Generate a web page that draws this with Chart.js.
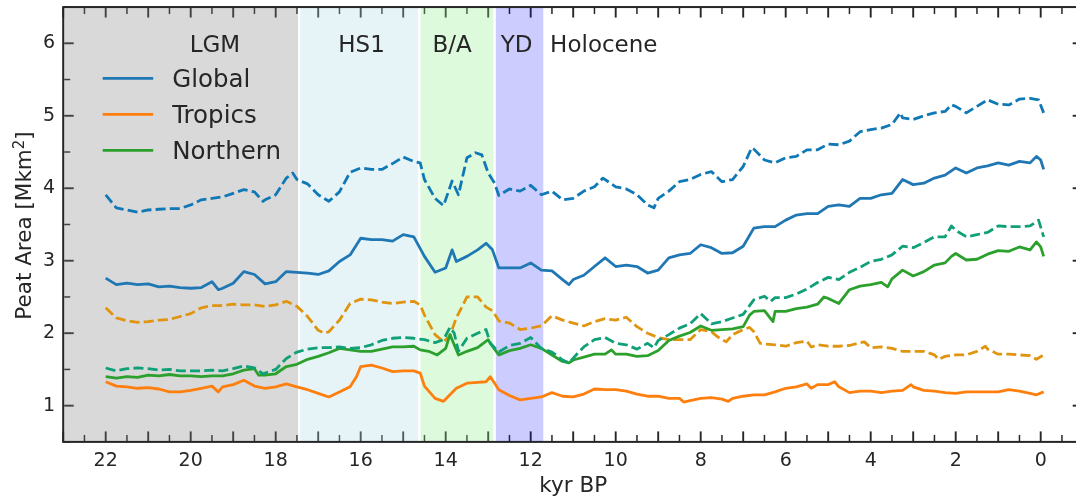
<!DOCTYPE html>
<html>
<head>
<meta charset="utf-8">
<title>Peat area since the LGM</title>
<script src="https://cdn.jsdelivr.net/npm/chart.js@4.4.1/dist/chart.umd.min.js"></script>
<style>
  html, body { margin: 0; padding: 0; background: #ffffff; overflow: hidden; }
  #wrap { position: relative; width: 1088px; height: 499px; }
</style>
</head>
<body>
<div id="wrap"><canvas id="peat" width="1088" height="499"></canvas></div>
<script>
// ---- Data: [kyr BP, peat area in Mkm^2] ----
const globalArea = [[22.0,2.76],[21.75,2.67],[21.5,2.69],[21.25,2.67],[21.0,2.68],[20.75,2.64],[20.5,2.65],[20.25,2.63],[20.0,2.62],[19.75,2.63],[19.5,2.71],[19.35,2.60],[19.25,2.62],[19.0,2.69],[18.75,2.85],[18.5,2.81],[18.25,2.68],[18.0,2.71],[17.75,2.85],[17.5,2.84],[17.25,2.83],[17.0,2.81],[16.75,2.86],[16.5,2.99],[16.25,3.08],[16.0,3.31],[15.75,3.29],[15.5,3.29],[15.25,3.27],[15.0,3.36],[14.75,3.33],[14.5,3.06],[14.25,2.84],[14.0,2.90],[13.85,3.15],[13.75,2.99],[13.5,3.06],[13.25,3.15],[13.05,3.24],[12.9,3.15],[12.75,2.90],[12.5,2.90],[12.25,2.90],[12.0,2.97],[11.75,2.87],[11.5,2.86],[11.25,2.74],[11.1,2.67],[11.0,2.74],[10.75,2.80],[10.5,2.92],[10.25,3.04],[10.0,2.92],[9.75,2.94],[9.5,2.92],[9.25,2.83],[9.0,2.87],[8.75,3.04],[8.5,3.08],[8.25,3.10],[8.0,3.22],[7.75,3.18],[7.5,3.10],[7.25,3.11],[7.0,3.20],[6.75,3.45],[6.5,3.47],[6.25,3.47],[6.0,3.56],[5.75,3.63],[5.5,3.65],[5.25,3.65],[5.0,3.75],[4.75,3.77],[4.5,3.75],[4.25,3.86],[4.0,3.86],[3.75,3.91],[3.5,3.93],[3.25,4.12],[3.0,4.05],[2.75,4.07],[2.5,4.14],[2.25,4.18],[2.0,4.28],[1.75,4.21],[1.5,4.28],[1.25,4.31],[1.0,4.35],[0.75,4.32],[0.5,4.37],[0.25,4.35],[0.1,4.44],[0.0,4.39],[-0.07,4.26]];

const globalAreaAlt = [[22.0,3.91],[21.75,3.73],[21.5,3.70],[21.25,3.67],[21.0,3.70],[20.75,3.71],[20.5,3.72],[20.25,3.72],[20.0,3.77],[19.75,3.84],[19.5,3.86],[19.25,3.88],[19.0,3.93],[18.75,3.98],[18.5,3.95],[18.3,3.82],[18.25,3.84],[18.0,3.91],[17.75,4.14],[17.6,4.21],[17.5,4.12],[17.25,4.06],[17.0,3.91],[16.75,3.82],[16.5,3.95],[16.25,4.22],[16.0,4.28],[15.75,4.26],[15.5,4.26],[15.25,4.34],[15.0,4.43],[14.75,4.37],[14.6,4.35],[14.5,4.12],[14.25,3.86],[14.05,3.76],[13.85,4.10],[13.7,3.91],[13.5,4.42],[13.3,4.49],[13.15,4.46],[13.0,4.21],[12.85,4.07],[12.75,3.90],[12.5,3.99],[12.25,3.96],[12.0,4.04],[11.75,3.91],[11.5,3.96],[11.25,3.84],[11.0,3.86],[10.75,3.96],[10.5,4.02],[10.3,4.14],[10.0,4.02],[9.75,3.99],[9.5,3.91],[9.25,3.77],[9.1,3.73],[9.0,3.86],[8.75,3.96],[8.5,4.09],[8.25,4.12],[8.0,4.19],[7.75,4.23],[7.5,4.09],[7.25,4.12],[7.0,4.30],[6.8,4.56],[6.75,4.54],[6.5,4.39],[6.25,4.35],[6.0,4.42],[5.75,4.44],[5.5,4.53],[5.25,4.53],[5.0,4.61],[4.75,4.60],[4.5,4.65],[4.25,4.78],[4.0,4.81],[3.75,4.83],[3.5,4.88],[3.3,5.04],[3.25,4.97],[3.0,4.95],[2.75,5.00],[2.5,5.04],[2.25,5.06],[2.1,5.15],[2.0,5.13],[1.75,5.04],[1.5,5.13],[1.25,5.22],[1.0,5.16],[0.75,5.15],[0.5,5.23],[0.25,5.24],[0.05,5.22],[-0.07,5.04]];

const tropicsArea = [[22.0,1.33],[21.75,1.27],[21.5,1.26],[21.25,1.24],[21.0,1.25],[20.75,1.23],[20.5,1.19],[20.25,1.19],[20.0,1.21],[19.75,1.24],[19.5,1.27],[19.35,1.19],[19.25,1.26],[19.0,1.29],[18.75,1.35],[18.5,1.27],[18.25,1.24],[18.0,1.26],[17.75,1.30],[17.5,1.26],[17.25,1.22],[17.0,1.17],[16.75,1.12],[16.5,1.19],[16.25,1.26],[16.1,1.40],[16.0,1.54],[15.75,1.56],[15.5,1.52],[15.25,1.47],[15.0,1.48],[14.75,1.48],[14.6,1.45],[14.5,1.27],[14.25,1.10],[14.05,1.06],[13.75,1.24],[13.5,1.31],[13.25,1.32],[13.05,1.33],[12.95,1.40],[12.75,1.22],[12.5,1.14],[12.25,1.08],[12.0,1.10],[11.75,1.12],[11.5,1.18],[11.25,1.13],[11.0,1.12],[10.75,1.16],[10.5,1.23],[10.25,1.22],[10.0,1.22],[9.75,1.20],[9.5,1.16],[9.25,1.13],[9.0,1.13],[8.75,1.10],[8.5,1.10],[8.4,1.05],[8.25,1.07],[8.0,1.10],[7.75,1.11],[7.5,1.09],[7.35,1.06],[7.25,1.10],[7.0,1.13],[6.75,1.15],[6.5,1.15],[6.25,1.19],[6.0,1.24],[5.75,1.26],[5.5,1.30],[5.4,1.24],[5.25,1.29],[5.0,1.29],[4.85,1.33],[4.75,1.26],[4.5,1.18],[4.25,1.20],[4.0,1.20],[3.75,1.18],[3.5,1.20],[3.25,1.21],[3.05,1.29],[3.0,1.26],[2.75,1.21],[2.5,1.20],[2.25,1.18],[2.0,1.17],[1.75,1.19],[1.5,1.19],[1.25,1.19],[1.0,1.19],[0.75,1.22],[0.5,1.20],[0.25,1.17],[0.1,1.15],[-0.07,1.19]];

const tropicsAreaAlt = [[22.0,2.35],[21.75,2.21],[21.5,2.17],[21.25,2.15],[21.0,2.16],[20.75,2.18],[20.5,2.19],[20.25,2.23],[20.0,2.27],[19.75,2.35],[19.5,2.38],[19.25,2.38],[19.0,2.40],[18.75,2.39],[18.5,2.39],[18.25,2.37],[18.0,2.39],[17.75,2.44],[17.5,2.37],[17.25,2.23],[17.0,2.04],[16.85,2.00],[16.75,2.02],[16.5,2.18],[16.25,2.41],[16.0,2.47],[15.75,2.46],[15.5,2.43],[15.25,2.41],[15.0,2.43],[14.75,2.44],[14.6,2.39],[14.5,2.25],[14.25,1.98],[14.05,1.88],[13.9,1.97],[13.75,2.21],[13.5,2.50],[13.25,2.50],[13.05,2.36],[12.9,2.31],[12.75,2.17],[12.5,2.14],[12.25,2.05],[12.0,2.07],[11.75,2.10],[11.5,2.24],[11.25,2.18],[11.0,2.14],[10.75,2.10],[10.5,2.16],[10.25,2.20],[10.0,2.18],[9.75,2.22],[9.5,2.09],[9.25,2.00],[9.0,1.94],[8.75,1.91],[8.5,1.91],[8.25,1.91],[8.0,2.05],[7.75,2.02],[7.6,1.95],[7.4,1.88],[7.25,1.98],[7.0,2.05],[6.85,2.08],[6.75,2.02],[6.6,1.86],[6.5,1.85],[6.25,1.84],[6.0,1.82],[5.75,1.87],[5.5,1.89],[5.4,1.81],[5.25,1.84],[5.0,1.82],[4.75,1.82],[4.5,1.83],[4.25,1.87],[4.15,1.88],[4.0,1.80],[3.75,1.81],[3.5,1.79],[3.25,1.75],[3.0,1.75],[2.75,1.75],[2.5,1.70],[2.4,1.64],[2.25,1.68],[2.0,1.70],[1.75,1.70],[1.5,1.75],[1.3,1.82],[1.25,1.78],[1.0,1.71],[0.75,1.71],[0.5,1.70],[0.25,1.69],[0.1,1.64],[-0.07,1.70]];

const northernArea = [[22.0,1.40],[21.75,1.38],[21.5,1.40],[21.25,1.39],[21.0,1.42],[20.75,1.41],[20.5,1.43],[20.25,1.41],[20.0,1.41],[19.75,1.40],[19.5,1.41],[19.25,1.41],[19.0,1.44],[18.75,1.49],[18.5,1.51],[18.4,1.42],[18.25,1.42],[18.0,1.44],[17.75,1.54],[17.5,1.57],[17.25,1.64],[17.0,1.68],[16.75,1.73],[16.5,1.79],[16.25,1.77],[16.0,1.75],[15.75,1.75],[15.5,1.78],[15.25,1.81],[15.0,1.81],[14.75,1.82],[14.6,1.77],[14.4,1.75],[14.2,1.70],[14.0,1.79],[13.9,1.98],[13.8,1.84],[13.7,1.70],[13.5,1.75],[13.25,1.80],[13.0,1.91],[12.95,1.86],[12.75,1.70],[12.5,1.76],[12.25,1.79],[12.0,1.84],[11.75,1.79],[11.5,1.70],[11.25,1.61],[11.1,1.59],[11.0,1.63],[10.75,1.67],[10.5,1.71],[10.25,1.71],[10.1,1.77],[10.0,1.71],[9.75,1.71],[9.5,1.68],[9.25,1.69],[9.0,1.76],[8.75,1.90],[8.5,1.96],[8.25,2.01],[8.0,2.10],[7.75,2.04],[7.5,2.05],[7.25,2.06],[7.0,2.09],[6.85,2.25],[6.75,2.30],[6.5,2.31],[6.3,2.16],[6.25,2.30],[6.0,2.30],[5.75,2.34],[5.5,2.36],[5.25,2.40],[5.1,2.50],[5.0,2.48],[4.75,2.41],[4.5,2.60],[4.25,2.65],[4.0,2.67],[3.75,2.70],[3.6,2.64],[3.5,2.75],[3.25,2.87],[3.0,2.79],[2.75,2.85],[2.5,2.94],[2.25,2.97],[2.1,3.06],[2.0,3.10],[1.75,3.01],[1.5,3.02],[1.25,3.09],[1.0,3.14],[0.75,3.13],[0.5,3.19],[0.25,3.15],[0.1,3.26],[0.0,3.19],[-0.07,3.06]];

const northernAreaAlt = [[22.0,1.52],[21.75,1.48],[21.5,1.51],[21.25,1.52],[21.0,1.51],[20.75,1.49],[20.5,1.50],[20.25,1.48],[20.0,1.48],[19.75,1.48],[19.5,1.49],[19.25,1.48],[19.0,1.51],[18.75,1.55],[18.5,1.52],[18.3,1.44],[18.25,1.45],[18.0,1.50],[17.75,1.65],[17.5,1.74],[17.25,1.78],[17.0,1.80],[16.75,1.80],[16.5,1.81],[16.25,1.79],[16.0,1.80],[15.75,1.84],[15.5,1.90],[15.25,1.93],[15.0,1.94],[14.75,1.93],[14.5,1.91],[14.25,1.87],[14.05,1.91],[13.9,2.08],[13.8,2.00],[13.7,1.75],[13.5,1.93],[13.25,2.00],[13.05,2.05],[12.95,1.86],[12.75,1.74],[12.5,1.83],[12.25,1.86],[12.0,1.94],[11.75,1.79],[11.5,1.74],[11.25,1.63],[11.1,1.59],[10.9,1.72],[10.75,1.81],[10.5,1.91],[10.25,1.94],[10.0,1.86],[9.75,1.84],[9.5,1.78],[9.25,1.86],[9.1,1.80],[9.0,1.90],[8.75,1.98],[8.5,2.07],[8.25,2.13],[8.0,2.27],[7.85,2.19],[7.75,2.13],[7.5,2.16],[7.25,2.21],[7.0,2.26],[6.75,2.46],[6.5,2.51],[6.35,2.44],[6.25,2.49],[6.0,2.49],[5.75,2.54],[5.5,2.61],[5.25,2.70],[5.0,2.77],[4.75,2.74],[4.5,2.84],[4.25,2.91],[4.0,2.99],[3.75,3.02],[3.5,3.08],[3.25,3.20],[3.0,3.18],[2.75,3.25],[2.5,3.33],[2.25,3.33],[2.1,3.48],[2.0,3.42],[1.75,3.33],[1.5,3.36],[1.25,3.39],[1.0,3.48],[0.75,3.47],[0.5,3.47],[0.25,3.48],[0.05,3.56],[-0.07,3.33]];

// Climate periods (kyr BP)
const periodNames = ['LGM', 'HS1', 'B/A', 'YD'];
const periodStart = [23.0, 17.45, 14.62, 12.85];
const periodEnd = [17.45, 14.62, 12.85, 11.68];

// Period captions along the top of the panel
const captionText = ['LGM', 'HS1', 'B/A', 'YD', 'Holocene'];
const captionKyr = [19.43, 15.98, 13.85, 12.33, 10.28];
const captionLevel = 6;

// Axis ticks
const xTickLabels = [22, 20, 18, 16, 14, 12, 10, 8, 6, 4, 2, 0];
const yTickLabels = [1, 2, 3, 4, 5, 6];

const legendNames = ['Global', 'Tropics', 'Northern'];

// ---- Styling ----
const INK = '#262626';
const FONT = '"DejaVu Sans", "Liberation Sans", sans-serif';
const solidColors = ['#1f77b4', '#ff7f0e', '#2ca02c'];
const dashedColors = ['#0f78b5', '#e0940f', '#0fa078'];
const periodFill = ['rgba(128,128,128,0.3)', 'rgba(173,216,230,0.3)', 'rgba(144,238,144,0.3)', 'rgba(0,0,255,0.2)'];
const LINE_W = 2.8;

const toXY = rows => rows.map(([x, y]) => ({ x, y }));

const seriesList = [
  { label: 'Global', rows: globalArea, color: solidColors[0], dash: [] },
  { label: 'Global (alt.)', rows: globalAreaAlt, color: dashedColors[0], dash: [10, 4.2] },
  { label: 'Tropics', rows: tropicsArea, color: solidColors[1], dash: [] },
  { label: 'Tropics (alt.)', rows: tropicsAreaAlt, color: dashedColors[1], dash: [10, 4.2] },
  { label: 'Northern', rows: northernArea, color: solidColors[2], dash: [] },
  { label: 'Northern (alt.)', rows: northernAreaAlt, color: dashedColors[2], dash: [10, 4.2] }
];

const datasets = seriesList.map((s, i) => ({
  label: s.label,
  data: toXY(s.rows),
  borderColor: s.color,
  backgroundColor: s.color,
  borderWidth: LINE_W,
  borderDash: s.dash,
  borderJoinStyle: 'round',
  pointRadius: 0,
  tension: 0,
  fill: false,
  order: seriesList.length - i   // later series are painted on top
}));

function strokeLine(ctx, x1, y1, x2, y2) {
  ctx.beginPath();
  ctx.moveTo(x1, y1);
  ctx.lineTo(x2, y2);
  ctx.stroke();
}

// Inward ticks, period shading, captions, legend and frame
const decorations = {
  id: 'decorations',
  beforeDatasetsDraw(chart) {
    const { ctx, chartArea: a, scales: { x, y } } = chart;
    ctx.save();
    ctx.strokeStyle = INK;
    // x ticks: long every 1 kyr, short every 0.5 kyr
    for (let k = -1; k <= 23.001; k += 0.5) {
      const major = Math.abs(k - Math.round(k)) < 1e-6;
      const px = x.getPixelForValue(k);
      ctx.lineWidth = major ? 1.9 : 1.5;
      const len = major ? 10.5 : 7;
      strokeLine(ctx, px, a.bottom, px, a.bottom - len);
      strokeLine(ctx, px, a.top, px, a.top + len);
    }
    // y ticks: long every 1, short every 0.5
    for (let v = 0.5; v <= 6.501; v += 0.5) {
      const major = Math.abs(v - Math.round(v)) < 1e-6;
      const py = y.getPixelForValue(v);
      ctx.lineWidth = major ? 1.9 : 1.5;
      const len = major ? 10.5 : 7;
      strokeLine(ctx, a.left, py, a.left + len, py);
      strokeLine(ctx, a.right, py, a.right - len, py);
    }
    // period shading
    ctx.beginPath();
    ctx.rect(a.left, a.top, a.right - a.left, a.bottom - a.top);
    ctx.clip();
    periodNames.forEach((name, i) => {
      const x1 = x.getPixelForValue(periodStart[i]);
      const x2 = x.getPixelForValue(periodEnd[i]);
      ctx.fillStyle = periodFill[i];
      ctx.fillRect(Math.min(x1, x2), a.top, Math.abs(x2 - x1), a.bottom - a.top);
    });
    ctx.strokeStyle = '#ffffff';
    ctx.lineWidth = 2;
    periodNames.forEach((name, i) => {
      [periodStart[i], periodEnd[i]].forEach(k => {
        const px = x.getPixelForValue(k);
        strokeLine(ctx, px, a.top, px, a.bottom);
      });
    });
    ctx.restore();
  },
  afterDatasetsDraw(chart) {
    const { ctx, chartArea: a, scales: { x, y } } = chart;
    ctx.save();
    ctx.fillStyle = INK;
    ctx.textBaseline = 'alphabetic';

    // period captions
    ctx.font = '23px ' + FONT;
    ctx.textAlign = 'center';
    const capY = y.getPixelForValue(captionLevel) + 0.3645 * 23;
    captionText.forEach((t, i) => {
      ctx.fillText(t, x.getPixelForValue(captionKyr[i]), capY);
    });

    // legend
    ctx.textAlign = 'left';
    ctx.font = '24.5px ' + FONT;
    legendNames.forEach((name, i) => {
      const rowY = 78.3 + i * 36;
      ctx.strokeStyle = solidColors[i];
      ctx.lineWidth = LINE_W;
      strokeLine(ctx, a.left + 39.5, rowY, a.left + 90, rowY);
      ctx.fillText(name, a.left + 109, rowY + 0.3645 * 24.5);
    });

    // y-axis title with superscript
    ctx.save();
    ctx.translate(31, (a.top + a.bottom) / 2 + 1);
    ctx.rotate(-Math.PI / 2);
    const big = '21.5px ' + FONT, small = '15px ' + FONT;
    ctx.font = big;
    const w1 = ctx.measureText('Peat Area [Mkm').width;
    const w3 = ctx.measureText(']').width;
    ctx.font = small;
    const w2 = ctx.measureText('2').width;
    let x0 = -(w1 + w2 + w3) / 2;
    ctx.font = big;
    ctx.fillText('Peat Area [Mkm', x0, 0);
    x0 += w1;
    ctx.font = small;
    ctx.fillText('2', x0, -7);
    x0 += w2;
    ctx.font = big;
    ctx.fillText(']', x0, 0);
    ctx.restore();

    // frame
    ctx.strokeStyle = INK;
    ctx.lineWidth = 2;
    ctx.strokeRect(a.left, a.top, a.right - a.left, a.bottom - a.top);
    ctx.restore();
  }
};

new Chart(document.getElementById('peat'), {
  type: 'line',
  data: { datasets },
  options: {
    responsive: false,
    animation: false,
    devicePixelRatio: 1,
    layout: { padding: { left: 0, right: 4.8, top: 7.06, bottom: 0 } },
    plugins: {
      legend: { display: false },
      tooltip: { enabled: false }
    },
    scales: {
      x: {
        type: 'linear',
        reverse: true,
        min: -1,
        max: 23,
        afterBuildTicks: s => { s.ticks = xTickLabels.map(v => ({ value: v })); },
        afterFit: s => { s.height = 57.1; s.paddingLeft = 0; s.paddingRight = 0; },
        grid: { display: false, drawTicks: false },
        border: { display: false },
        ticks: {
          autoSkip: false, maxRotation: 0, padding: 8,
          color: INK, font: { family: FONT, size: 19 },
          callback: v => String(v)
        },
        title: {
          display: true, text: 'kyr BP', color: INK,
          font: { family: FONT, size: 21.5 },
          padding: { top: 0, bottom: 0 }
        }
      },
      y: {
        type: 'linear',
        min: 0.5,
        max: 6.5,
        afterBuildTicks: s => { s.ticks = yTickLabels.map(v => ({ value: v })); },
        afterFit: s => { s.width = 63.2; s.paddingTop = 0; s.paddingBottom = 0; },
        grid: { display: false, drawTicks: false },
        border: { display: false },
        ticks: {
          padding: 8, color: INK, font: { family: FONT, size: 19 },
          callback: v => String(v)
        }
      }
    }
  },
  plugins: [decorations]
});
</script>
</body>
</html>
